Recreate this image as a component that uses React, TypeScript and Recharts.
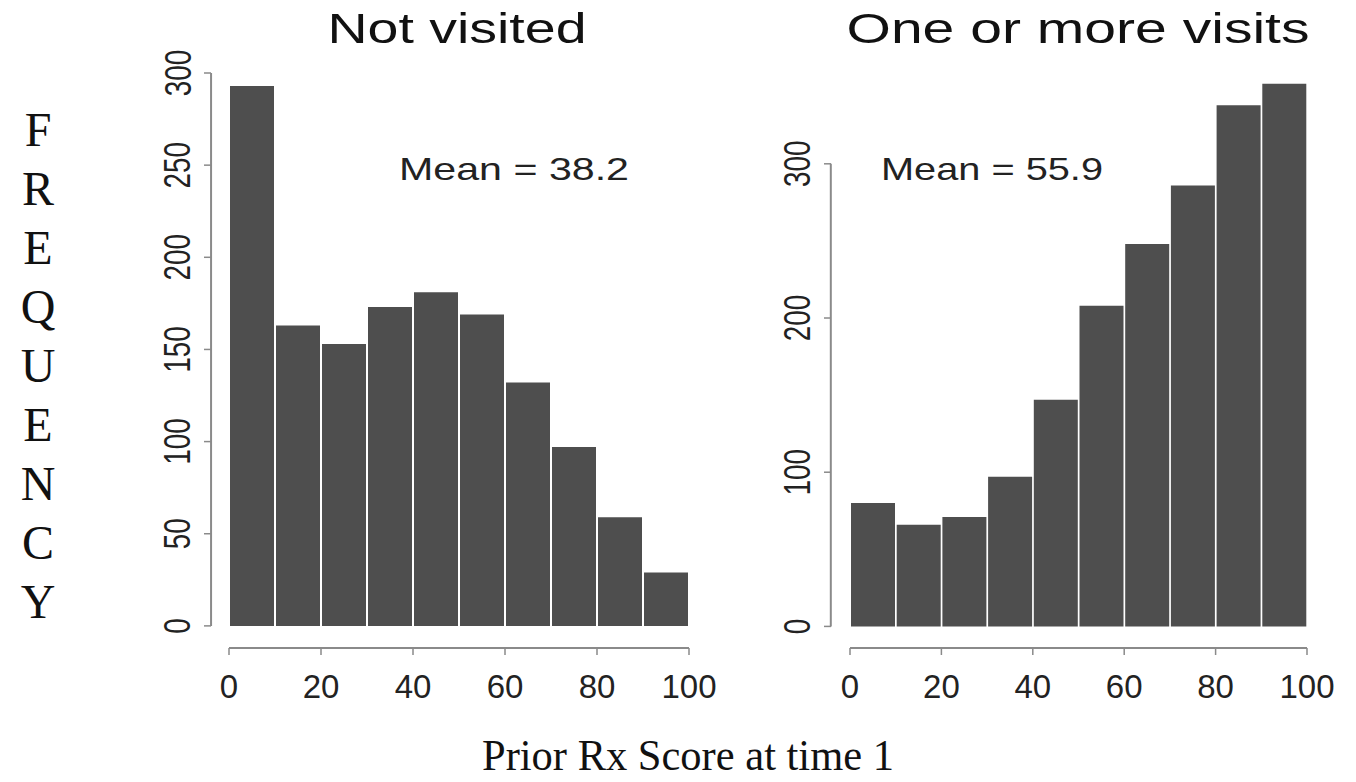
import React from 'react';
import { BarChart, Bar, XAxis, YAxis, ReferenceLine } from 'recharts';

const bins = ['0-10', '10-20', '20-30', '30-40', '40-50', '50-60', '60-70', '70-80', '80-90', '90-100'];
const mids = [5, 15, 25, 35, 45, 55, 65, 75, 85, 95];
const notVisited = [293, 163, 153, 173, 181, 169, 132, 97, 59, 29];
const visited = [80, 66, 71, 97, 147, 208, 248, 286, 338, 352];
const xTicks = [0, 20, 40, 60, 80, 100];
const leftYTicks = [0, 50, 100, 150, 200, 250, 300];
const rightYTicks = [0, 100, 200, 300];
const yLetters = ['F', 'R', 'E', 'Q', 'U', 'E', 'N', 'C', 'Y'];

const leftData = bins.map((b, i) => ({ bin: b, mid: mids[i], count: notVisited[i] }));
const rightData = bins.map((b, i) => ({ bin: b, mid: mids[i], count: visited[i] }));

const SANS = '"Liberation Sans", Arial, Helvetica, sans-serif';
const SERIF = '"Liberation Serif", "Times New Roman", serif';
const AXIS = '#8a8a8a';
const BAR = '#4e4e4e';

const XTick = (props: any) => {
  const { x, y, payload } = props;
  return (
    <text x={x} y={y + 41} textAnchor="middle" fontFamily={SANS} fontSize={33} fill="#222">
      {payload.value}
    </text>
  );
};

const YTick = (props: any) => {
  const { x, y, payload } = props;
  const s = String(payload.value);
  return (
    <text
      x={x}
      y={y}
      transform={`rotate(-90 ${x} ${y})`}
      textAnchor="middle"
      dominantBaseline="central"
      fontFamily={SANS}
      fontSize={36}
      fill="#222"
      textLength={15.5 * s.length}
      lengthAdjust="spacingAndGlyphs"
    >
      {s}
    </text>
  );
};

type PanelProps = {
  data: any[];
  left: number;
  width: number;
  marginTop: number;
  marginRight: number;
  padLeft: number;
  yDomain: [number, number];
  yTicks: number[];
  axisX: number;
};

const Panel = ({ data, left, width, marginTop, marginRight, padLeft, yDomain, yTicks, axisX }: PanelProps) => (
  <div style={{ position: 'absolute', left, top: 0, width, height: 782 }}>
    <BarChart
      width={width}
      height={782}
      data={data}
      margin={{ top: marginTop, right: marginRight, bottom: 94, left: 171 }}
      barCategoryGap={1}
      barGap={0}
    >
      <XAxis xAxisId="cat" dataKey="bin" type="category" hide height={0} padding={{ left: padLeft, right: 0 }} />
      <XAxis
        xAxisId="num"
        dataKey="mid"
        type="number"
        domain={[0, 100]}
        ticks={xTicks}
        interval={0}
        allowDataOverflow
        padding={{ left: padLeft, right: 0 }}
        height={40}
        axisLine={false}
        tickLine={{ stroke: AXIS, strokeWidth: 1.5 }}
        tickSize={7}
        tick={<XTick />}
      />
      <YAxis
        type="number"
        domain={yDomain}
        ticks={yTicks}
        interval={0}
        allowDataOverflow
        width={40}
        axisLine={false}
        tickLine={{ stroke: AXIS, strokeWidth: 1.5 }}
        tickSize={7}
        tickMargin={26}
        tick={<YTick />}
      />
      <Bar xAxisId="cat" dataKey="count" fill={BAR} isAnimationActive={false} />
      <ReferenceLine
        xAxisId="num"
        segment={[{ x: 0, y: yDomain[0] }, { x: 100, y: yDomain[0] }]}
        stroke={AXIS}
        strokeWidth={2}
        ifOverflow="visible"
      />
      <ReferenceLine
        xAxisId="num"
        segment={[{ x: axisX, y: 0 }, { x: axisX, y: yTicks[yTicks.length - 1] }]}
        stroke={AXIS}
        strokeWidth={2}
        ifOverflow="visible"
      />
    </BarChart>
  </div>
);

export default function App() {
  return (
    <div style={{ position: 'absolute', left: 0, top: 0, width: 1356, height: 782, background: '#fff', overflow: 'hidden' }}>
      <Panel
        data={leftData}
        left={0}
        width={740}
        marginTop={73}
        marginRight={51}
        padLeft={18}
        yDomain={[-12, 300]}
        yTicks={leftYTicks}
        axisX={-3.9}
      />
      <Panel
        data={rightData}
        left={620}
        width={736}
        marginTop={79}
        marginRight={49}
        padLeft={19}
        yDomain={[-14, 355]}
        yTicks={rightYTicks}
        axisX={-4.2}
      />
      <svg width={1356} height={782} style={{ position: 'absolute', left: 0, top: 0, pointerEvents: 'none' }}>
        <text x={457} y={43} textAnchor="middle" fontFamily={SANS} fontSize={42} fill="#111" textLength={259} lengthAdjust="spacingAndGlyphs">
          Not visited
        </text>
        <text x={1078} y={43} textAnchor="middle" fontFamily={SANS} fontSize={42} fill="#111" textLength={463} lengthAdjust="spacingAndGlyphs">
          One or more visits
        </text>
        <text x={399} y={180} fontFamily={SANS} fontSize={32} fill="#222" textLength={230} lengthAdjust="spacingAndGlyphs">
          Mean = 38.2
        </text>
        <text x={881} y={180} fontFamily={SANS} fontSize={32} fill="#222" textLength={222} lengthAdjust="spacingAndGlyphs">
          Mean = 55.9
        </text>
        {yLetters.map((l, i) => (
          <text key={i} x={38} y={146 + 59 * i} textAnchor="middle" fontFamily={SERIF} fontSize={48} fill="#111">
            {l}
          </text>
        ))}
        <text x={688} y={770} textAnchor="middle" fontFamily={SERIF} fontSize={44} fill="#111" textLength={412} lengthAdjust="spacingAndGlyphs">
          Prior Rx Score at time 1
        </text>
      </svg>
    </div>
  );
}
